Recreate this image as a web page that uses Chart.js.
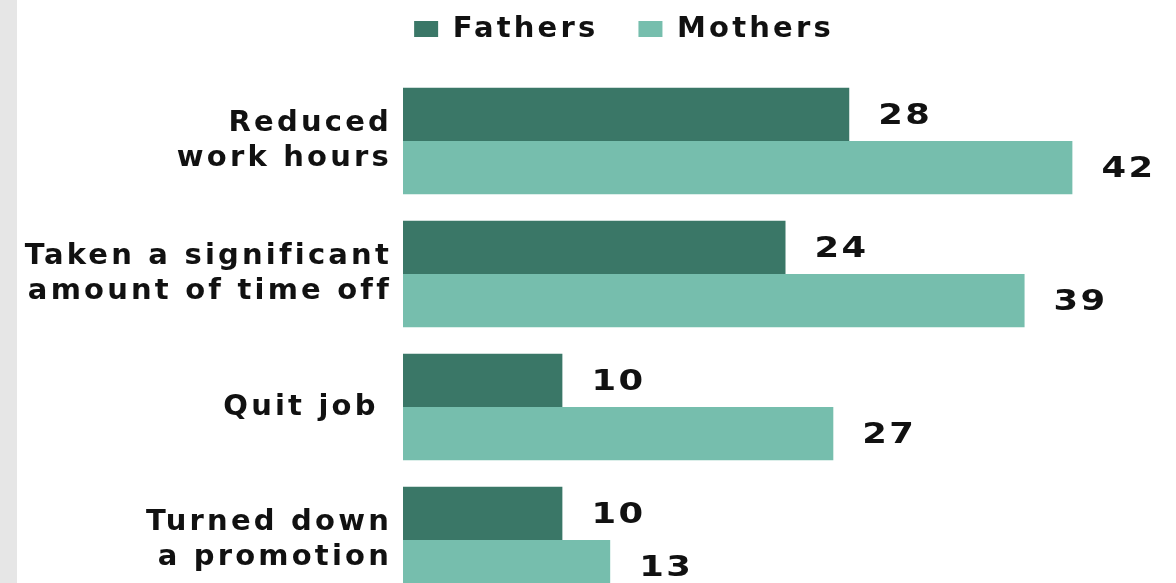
<!DOCTYPE html>
<html>
<head>
<meta charset="utf-8">
<script src="https://cdn.jsdelivr.net/npm/chart.js@4"></script>
<style>
  html, body { margin: 0; padding: 0; background: #fff; overflow: hidden; width: 1176px; height: 583px; }
  #strip { position: absolute; left: 0; top: 0; width: 17px; height: 583px; background: #e6e6e6; }
  #chart { position: absolute; left: 0; top: -30px; }
</style>
</head>
<body>
<div id="strip"></div>
<canvas id="chart" width="1176" height="650"></canvas>
<script>
const categories = [
    ['Reduced', 'work hours'],
    ['Taken a significant', 'amount of time off'],
    'Quit job ',
    ['Turned down', 'a promotion']
];
const fathers = [28, 24, 10, 10];
const mothers = [42, 39, 27, 13];

const FONT = 'DejaVu Sans';

// espaciado entre letras, el canvas lo pierde al redimensionar
const spacing = {
    id: 'spacing',
    beforeUpdate(chart) { chart.ctx.letterSpacing = '3.2px'; },
    beforeDraw(chart) { chart.ctx.letterSpacing = '3.2px'; }
};

// margen bajo la leyenda y leyenda centrada sobre la zona del gráfico
const legendGap = {
    id: 'legendGap',
    beforeInit(chart) {
        const fit = chart.legend.fit;
        chart.legend.fit = function () {
            fit.bind(chart.legend)();
            this.height += 21;
        };
    },
    afterLayout(chart) {
        chart.legend.left = 80;
        chart.legend.width = chart.legend.right - 80;
    }
};

// valores al final de cada barra
const valueLabels = {
    id: 'valueLabels',
    afterDatasetsDraw(chart) {
        const ctx = chart.ctx;
        ctx.save();
        ctx.font = 'bold 29px "' + FONT + '"';
        ctx.letterSpacing = '2px';
        ctx.fillStyle = '#111';
        ctx.textAlign = 'left';
        ctx.textBaseline = 'middle';
        chart.data.datasets.forEach((ds, i) => {
            chart.getDatasetMeta(i).data.forEach((bar, j) => {
                ctx.save();
                ctx.translate(bar.x + 29, bar.y + 2);
                ctx.scale(1.22, 1);
                ctx.fillText(String(ds.data[j]), 0, 0);
                ctx.restore();
            });
        });
        ctx.restore();
    }
};

new Chart(document.getElementById('chart'), {
    type: 'bar',
    data: {
        labels: categories,
        datasets: [
            { label: 'Fathers', data: fathers, backgroundColor: '#3a7767', borderWidth: 0 },
            { label: 'Mothers', data: mothers, backgroundColor: '#76bead', borderWidth: 0 }
        ]
    },
    options: {
        responsive: false,
        animation: false,
        indexAxis: 'y',
        categoryPercentage: 0.8,
        barPercentage: 1.0,
        layout: { padding: { left: 0, right: 8, top: 4.5, bottom: 13.5 } },
        plugins: {
            legend: {
                position: 'top',
                labels: {
                    boxWidth: 24,
                    boxHeight: 16,
                    padding: 40,
                    color: '#111',
                    font: { family: FONT, size: 29, weight: 'bold' }
                }
            },
            tooltip: { enabled: false }
        },
        scales: {
            x: { display: false, min: 0, max: 48 },
            y: {
                grid: { display: false, drawTicks: false },
                border: { display: false },
                ticks: {
                    padding: 11,
                    color: '#111',
                    autoSkip: false,
                    font: { family: FONT, size: 29, weight: 'bold', lineHeight: 1.2 }
                },
                afterFit(scale) {
                    scale.width = 403;
                    scale.paddingTop = 0;
                    scale.paddingBottom = 0;
                }
            }
        }
    },
    plugins: [spacing, legendGap, valueLabels]
});
</script>
</body>
</html>
